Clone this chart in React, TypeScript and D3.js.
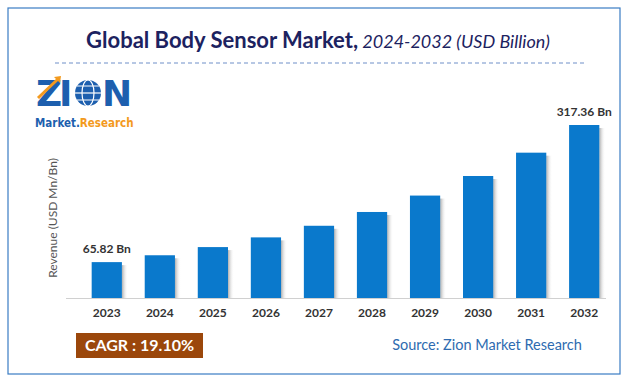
import React from "react";
import * as d3 from "d3";

const years = ["2023","2024","2025","2026","2027","2028","2029","2030","2031","2032"];
const values = [65.82, 78.4, 93.4, 111.2, 132.5, 157.8, 187.9, 223.8, 266.6, 317.36];
const labeledIdx = [0, 9];
const title = "Global Body Sensor Market,";
const subtitle = " 2024-2032 (USD Billion)";
const yLabel = "Revenue (USD Mn/Bn)";
const cagr = "CAGR :  19.10%";
const source = "Source: Zion Market Research";

const W = 632, H = 382;
const FONT = "Lato, 'Open Sans', sans-serif";

export default function App() {
  const x = d3.scaleBand().domain(years).range([80, 611]).paddingInner(0.43).paddingOuter(0.22);
  const y = d3.scaleLinear().domain([0, 317.36]).range([298, 125]);
  return (
    <svg width={W} height={H} style={{ position: "absolute", left: 0, top: 0 }} fontFamily={FONT}>
      <defs>
        <linearGradient id="shadow" x1="0" x2="1" y1="0" y2="0">
          <stop offset="0" stopColor="#9a9a9a" stopOpacity="0.8" />
          <stop offset="1" stopColor="#ffffff" stopOpacity="0" />
        </linearGradient>
      </defs>
      <rect x={0} y={0} width={W} height={H} fill="#fff" />
      <rect x={8} y={8} width={612} height={366} fill="#fff" stroke="#3a7cc4" strokeWidth={1.2} />
      <text x={318} y={48} textAnchor="middle" fill="#1c2260" fontSize={22}>
        <tspan fontWeight="bold">{title}</tspan>
        <tspan fontStyle="italic" fontSize={18}>{subtitle}</tspan>
      </text>
      <line x1={55} x2={585} y1={63} y2={63} stroke="#6f8fc8" strokeWidth={1} strokeDasharray="4,3" />
      {/* logo */}
      <g>
        <text x={36} y={106} fill="#1d5fae" fontSize={36} fontWeight="900" fontFamily="'DejaVu Sans', sans-serif" letterSpacing={-3}>ZI</text>
        <circle cx={88} cy={93} r={13} fill="#1d5fae" />
        <ellipse cx={88} cy={93} rx={6} ry={13} fill="none" stroke="#fff" strokeWidth={1.2} />
        <line x1={75} x2={101} y1={93} y2={93} stroke="#fff" strokeWidth={1.2} />
        <line x1={77} x2={99} y1={86} y2={86} stroke="#fff" strokeWidth={1} />
        <line x1={77} x2={99} y1={100} y2={100} stroke="#fff" strokeWidth={1} />
        <text x={102} y={106} fill="#1d5fae" fontSize={36} fontWeight="900" fontFamily="'DejaVu Sans', sans-serif">N</text>
        <path d="M38,98 L58,79" stroke="#f39a1e" strokeWidth={3} />
        <path d="M54,77 L61,76 L60,83 Z" fill="#f39a1e" />
        <text x={35} y={127} fontSize={11.5} fontWeight="bold" fontFamily="'DejaVu Sans Condensed', sans-serif">
          <tspan fill="#1d5fae">Market.</tspan>
          <tspan fill="#f39a1e">Research</tspan>
        </text>
      </g>
      <text transform="translate(57,218) rotate(-90)" textAnchor="middle" fill="#555" fontSize={12}>{yLabel}</text>
      {years.map((yr, i) => {
        const bx = x(yr)!;
        const bw = x.bandwidth();
        const top = y(values[i]);
        return (
          <g key={yr}>
            <rect x={bx + bw} y={top + 3} width={6} height={298 - top - 3} fill="url(#shadow)" />
            <rect x={bx} y={top} width={bw} height={298 - top} fill="#0a79cc" />
            <text x={bx + bw / 2} y={317} textAnchor="middle" fill="#333" fontSize={12} fontWeight="bold">{yr}</text>
            {labeledIdx.includes(i) && (
              <text x={bx + bw / 2} y={top - 9} textAnchor="middle" fill="#333" fontSize={12} fontWeight="bold">
                {values[i].toFixed(2)} Bn
              </text>
            )}
          </g>
        );
      })}
      <line x1={66} x2={606} y1={298.5} y2={298.5} stroke="#d0d0d0" strokeWidth={1} />
      <rect x={76} y={333} width={127} height={25} fill="#9b470b" />
      <text x={139.5} y={351} textAnchor="middle" fill="#fff" fontSize={16} fontWeight="bold">{cagr}</text>
      <text x={487} y={350} textAnchor="middle" fill="#2e6bb0" fontSize={14.5}>{source}</text>
    </svg>
  );
}
